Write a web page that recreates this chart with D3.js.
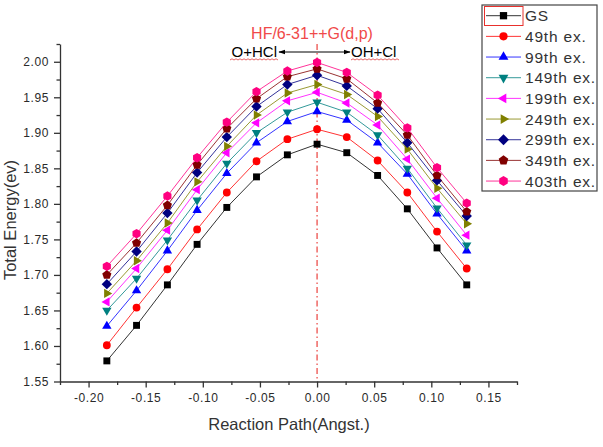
<!DOCTYPE html>
<html>
<head>
<meta charset="utf-8">
<script src="https://cdn.jsdelivr.net/npm/d3@7/dist/d3.min.js"></script>
<style>
  html, body { margin: 0; padding: 0; background: #fff; }
  svg { display: block; font-family: "Liberation Sans", Arial, sans-serif; }
</style>
</head>
<body>
<svg id="chart" width="603" height="447"></svg>
<script>
// ---- data ----
const pathX = [-0.184, -0.158, -0.131, -0.105, -0.079, -0.053, -0.026, 0, 0.026, 0.053, 0.079, 0.105, 0.131];
const seriesNames = ["GS", "49th ex.", "99th ex.", "149th ex.", "199th ex.", "249th ex.", "299th ex.", "349th ex.", "403th ex."];
const gs      = [1.579, 1.629, 1.686, 1.743, 1.795, 1.838, 1.869, 1.884, 1.872, 1.840, 1.793, 1.738, 1.686];
const ex49    = [1.601, 1.654, 1.708, 1.764, 1.816, 1.860, 1.891, 1.905, 1.894, 1.861, 1.816, 1.761, 1.709];
const ex99    = [1.628, 1.678, 1.734, 1.791, 1.843, 1.886, 1.916, 1.930, 1.918, 1.886, 1.842, 1.786, 1.734];
const ex149   = [1.650, 1.695, 1.749, 1.805, 1.857, 1.900, 1.929, 1.943, 1.929, 1.897, 1.850, 1.794, 1.742];
const ex199   = [1.662, 1.709, 1.763, 1.820, 1.872, 1.914, 1.945, 1.957, 1.942, 1.911, 1.863, 1.808, 1.756];
const ex249   = [1.674, 1.720, 1.773, 1.831, 1.881, 1.925, 1.956, 1.968, 1.954, 1.923, 1.877, 1.822, 1.772];
const ex299   = [1.687, 1.733, 1.787, 1.844, 1.894, 1.937, 1.968, 1.981, 1.966, 1.934, 1.886, 1.833, 1.783];
const ex349   = [1.700, 1.745, 1.798, 1.855, 1.906, 1.948, 1.979, 1.990, 1.976, 1.942, 1.897, 1.840, 1.789];
const ex403   = [1.712, 1.758, 1.811, 1.865, 1.915, 1.958, 1.987, 1.999, 1.985, 1.953, 1.907, 1.851, 1.801];
const seriesValues = [gs, ex49, ex99, ex149, ex199, ex249, ex299, ex349, ex403];
const xTicks = [-0.20, -0.15, -0.10, -0.05, 0.00, 0.05, 0.10, 0.15];
const yTicks = [1.55, 1.60, 1.65, 1.70, 1.75, 1.80, 1.85, 1.90, 1.95, 2.00];
const titleText = "HF/6-31++G(d,p)";
const leftLabel = "O+HCl";
const rightLabel = "OH+Cl";
const xTitle = "Reaction Path(Angst.)";
const yTitle = "Total Energy(ev)";

// ---- styles ----
const colors = ["#000000", "#ff0000", "#0000ff", "#008080", "#ff00ff", "#808000", "#000080", "#800000", "#ff0080"];
const shapes = ["square", "circle", "triUp", "triDown", "triLeft", "triRight", "diamond", "pentagon", "hexagon"];

function polygon(n, r, rotDeg) {
  const pts = [];
  for (let i = 0; i < n; i++) {
    const a = (rotDeg + i * 360 / n - 90) * Math.PI / 180;
    pts.push([r * Math.cos(a), r * Math.sin(a)]);
  }
  return "M" + pts.map(p => p[0].toFixed(2) + "," + p[1].toFixed(2)).join("L") + "Z";
}
function circlePath(r) {
  return `M${-r},0A${r},${r} 0 1,0 ${r},0A${r},${r} 0 1,0 ${-r},0Z`;
}
function markerPath(shape, s) {
  s = s || 1;
  switch (shape) {
    case "square": return polygon(4, 4.9 * s, 45);
    case "circle": return circlePath(3.9 * s);
    case "triUp": return polygon(3, 5.4 * s, 0);
    case "triDown": return polygon(3, 5.4 * s, 180);
    case "triLeft": return polygon(3, 5.4 * s, -90);
    case "triRight": return polygon(3, 5.4 * s, 90);
    case "diamond": return polygon(4, 5.2 * s, 0);
    case "pentagon": return polygon(5, 4.8 * s, 0);
    case "hexagon": return polygon(6, 4.7 * s, 0);
  }
}

const svg = d3.select("#chart");
const x = d3.scaleLinear().domain([-0.225, 0.175]).range([60, 517]);
const y = d3.scaleLinear().domain([1.55, 2.025]).range([381.5, 44]);

const axisColor = "#333";

// minor ticks
const xMinor = d3.range(-0.225, 0.1751, 0.025).filter(v => !xTicks.some(t => Math.abs(t - v) < 1e-6));
const yMinor = d3.range(1.575, 2.0251, 0.05);

const gx = svg.append("g").attr("transform", `translate(0,${y(1.55)})`)
  .call(d3.axisBottom(x).tickValues(xTicks).tickFormat(d3.format(".2f")).tickSize(6).tickSizeOuter(0).tickPadding(6));
gx.selectAll(".tick text").each(function(d){ d3.select(this).text(d3.format(".2f")(d).replace("−","-")); });
const gxm = svg.append("g").attr("transform", `translate(0,${y(1.55)})`)
  .call(d3.axisBottom(x).tickValues(xMinor).tickFormat("").tickSize(3.5).tickSizeOuter(0));
gxm.select(".domain").remove();

const gy = svg.append("g").attr("transform", `translate(${x(-0.225)},0)`)
  .call(d3.axisLeft(y).tickValues(yTicks).tickFormat(d3.format(".2f")).tickSize(6).tickSizeOuter(0).tickPadding(5));
const gym = svg.append("g").attr("transform", `translate(${x(-0.225)},0)`)
  .call(d3.axisLeft(y).tickValues(yMinor).tickFormat("").tickSize(3.5).tickSizeOuter(0));
gym.select(".domain").remove();

[gx, gxm, gy, gym].forEach(g => {
  g.selectAll("path, line").attr("stroke", axisColor).attr("stroke-width", 1.3);
  g.selectAll("text").attr("fill", "#2a2a2a").attr("font-size", 12).attr("letter-spacing", 0.6)
    .attr("font-family", "'Liberation Sans', Arial, sans-serif");
});

// vertical dash-dot line at 0
svg.append("line")
  .attr("x1", x(0)).attr("x2", x(0)).attr("y1", 44).attr("y2", y(1.55))
  .attr("stroke", "#e8302c").attr("stroke-width", 1.1)
  .attr("stroke-dasharray", "6,3,1.5,3");

// series
const line = d3.line().x((d, i) => x(pathX[i])).y(d => y(d));
seriesValues.forEach((vals, k) => {
  const g = svg.append("g");
  g.append("path").datum(vals).attr("d", line)
    .attr("fill", "none").attr("stroke", colors[k]).attr("stroke-width", 1).attr("stroke-opacity", 0.8);
  g.selectAll("path.m").data(vals).enter().append("path").attr("class", "m")
    .attr("transform", (d, i) => `translate(${x(pathX[i])},${y(d)})`)
    .attr("d", markerPath(shapes[k]))
    .attr("fill", colors[k]);
});

// title
svg.append("text").attr("x", 312).attr("y", 39).attr("text-anchor", "middle")
  .attr("font-size", 16).attr("fill", "#f04a4a").text(titleText);

// reaction labels and arrow
svg.append("text").attr("x", 277).attr("y", 57).attr("text-anchor", "end")
  .attr("font-size", 15).attr("fill", "#000").text(leftLabel);
svg.append("text").attr("x", 351).attr("y", 57).attr("text-anchor", "start")
  .attr("font-size", 15).attr("fill", "#000").text(rightLabel);
const defs = svg.append("defs");
defs.append("marker").attr("id", "ah").attr("viewBox", "0 0 10 10").attr("refX", 9).attr("refY", 5)
  .attr("markerWidth", 7).attr("markerHeight", 7).attr("orient", "auto-start-reverse")
  .append("path").attr("d", "M0,1.5L10,5L0,8.5Z").attr("fill", "#000");
svg.append("line").attr("x1", 279).attr("x2", 350).attr("y1", 52).attr("y2", 52)
  .attr("stroke", "#000").attr("stroke-width", 1)
  .attr("marker-start", "url(#ah)").attr("marker-end", "url(#ah)");
// spell-check squiggles
function squiggle(x0, x1, yy) {
  let d = `M${x0},${yy}`;
  for (let xx = x0, up = true; xx < x1; xx += 2, up = !up) d += `L${xx + 2},${yy + (up ? -1.2 : 0)}`;
  svg.append("path").attr("d", d).attr("fill", "none").attr("stroke", "#e04040").attr("stroke-width", 0.8);
}
squiggle(230, 277, 60);
squiggle(351, 398, 60);

// axis titles
svg.append("text").attr("x", 289).attr("y", 430).attr("text-anchor", "middle")
  .attr("font-size", 16.5).attr("fill", "#333").text(xTitle);
svg.append("text").attr("transform", "translate(16,220) rotate(-90)").attr("text-anchor", "middle")
  .attr("font-size", 16.5).attr("fill", "#333").text(yTitle);

// legend
const lg = svg.append("g");
lg.append("rect").attr("x", 482).attr("y", 5).attr("width", 115).attr("height", 186)
  .attr("fill", "#fff").attr("stroke", "#444").attr("stroke-width", 1.2);
lg.append("rect").attr("x", 484.5).attr("y", 6.5).attr("width", 38.5).attr("height", 19)
  .attr("fill", "none").attr("stroke", "#e8302c").attr("stroke-width", 1);
seriesNames.forEach((name, k) => {
  const yy = 15.7 + k * 20.67;
  lg.append("line").attr("x1", 486).attr("x2", 521).attr("y1", yy).attr("y2", yy)
    .attr("stroke", colors[k]).attr("stroke-width", 1).attr("stroke-opacity", 0.8);
  lg.append("path").attr("transform", `translate(503.5,${yy})`).attr("d", markerPath(shapes[k], 1.05)).attr("fill", colors[k]);
  lg.append("text").attr("x", 525).attr("y", yy + 5.5).attr("font-size", 15.5).attr("letter-spacing", 0.8)
    .attr("fill", "#333").text(name);
});
</script>
</body>
</html>
